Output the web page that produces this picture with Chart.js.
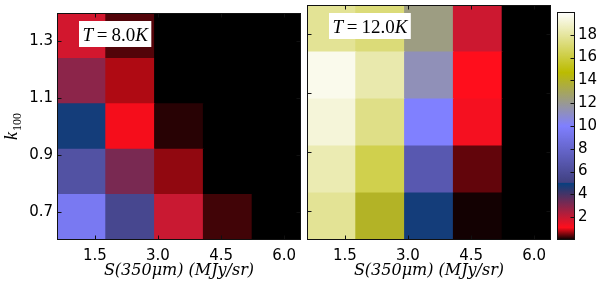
<!DOCTYPE html>
<html>
<head>
<meta charset="utf-8">
<script src="https://cdn.jsdelivr.net/npm/chart.js@4.4.0/dist/chart.umd.min.js"></script>
<style>
  body { margin: 0; background: #fff; }
  #wrap { position: relative; width: 600px; height: 285px; overflow: hidden; }
  canvas { position: absolute; top: 0; }
  #left { left: 0; }
  #right { left: 303px; }
  #cbar { left: 555px; }
</style>
</head>
<body>
<div id="wrap">
  <canvas id="left" width="305" height="285"></canvas>
  <canvas id="right" width="252" height="285"></canvas>
  <canvas id="cbar" width="45" height="285"></canvas>
</div>
<script>
// bin edges of the grid
var xEdges = [0.6, 1.76, 2.92, 4.08, 5.24, 6.4];
var yEdges = [0.6, 0.76, 0.92, 1.08, 1.24, 1.4];
var xTicks = [1.5, 3.0, 4.5, 6.0];
var yTicks = [0.7, 0.9, 1.1, 1.3];
var cbTicks = [2, 4, 6, 8, 10, 12, 14, 16, 18];
var cbRange = [0, 20];

// rows from k100 = 0.68 (bottom) up to 1.32 (top), columns left -> right
var valsT8 = [
  [9.5, 5.6, 1.95, 0.28, 0],
  [6.4, 3.2, 0.62, 0, 0],
  [4.8, 1.05, 0.17, 0, 0],
  [2.9, 0.75, 0, 0, 0],
  [1.8, 0.35, 0, 0, 0]
];
var valsT12 = [
  [17.8, 14.0, 4.8, 0.08, 0],
  [18.4, 16.3, 6.9, 0.42, 0],
  [19.2, 17.5, 10.0, 1.25, 0],
  [19.6, 18.3, 11.3, 1.1, 0],
  [17.8, 17.2, 12.3, 1.9, 0]
];

var xTitle = 'S(350\u03bcm) (MJy/sr)';

// gist_stern colormap
var sternR = [[0, 0], [0.0547, 1], [0.25, 0.027], [0.25, 0.25], [1, 1]];
var sternG = [[0, 0], [1, 1]];
var sternB = [[0, 0], [0.5, 1], [0.735, 0], [1, 1]];

function seg(pts, x) {
  for (var i = 0; i < pts.length - 1; i++) {
    var a = pts[i], b = pts[i + 1];
    if (b[0] > a[0] && x <= b[0]) return a[1] + (b[1] - a[1]) * (x - a[0]) / (b[0] - a[0]);
  }
  return pts[pts.length - 1][1];
}
function stern(v) {
  var x = Math.max(0, Math.min(1, (v - cbRange[0]) / (cbRange[1] - cbRange[0])));
  return 'rgb(' + Math.round(seg(sternR, x) * 255) + ',' + Math.round(seg(sternG, x) * 255) + ',' + Math.round(seg(sternB, x) * 255) + ')';
}

function heatSets(vals) {
  var centers = [];
  for (var i = 0; i < xEdges.length - 1; i++) centers.push((xEdges[i] + xEdges[i + 1]) / 2);
  return vals.map(function (row, r) {
    return {
      data: centers.map(function (x) { return { x: x, y: [yEdges[r], yEdges[r + 1]] }; }),
      backgroundColor: row.map(stern),
      borderWidth: 0,
      inflateAmount: 0.5,
      grouped: false,
      barPercentage: 1,
      categoryPercentage: 1
    };
  });
}

var tickFont = { family: 'DejaVu Sans', size: 15 };

// frame + inward tick marks
var frameTicks = {
  id: 'frameTicks',
  afterDatasetsDraw: function (chart, args, opts) {
    var ctx = chart.ctx, a = chart.chartArea;
    var xs = chart.scales.x, ys = chart.scales.y;
    var L = Math.round(a.left) + 0.5, R = Math.round(a.right) - 0.5;
    var T = Math.round(a.top) + 0.5, B = Math.round(a.bottom) - 0.5;
    function line(x1, y1, x2, y2) { ctx.beginPath(); ctx.moveTo(x1, y1); ctx.lineTo(x2, y2); ctx.stroke(); }
    ctx.save();
    ctx.strokeStyle = '#111';
    ctx.lineWidth = 1;
    (opts.xt || []).forEach(function (v) {
      var p = Math.round(xs.getPixelForValue(v)) + 0.5;
      line(p, B, p, B - 4);
      line(p, T, p, T + 4);
    });
    (opts.yt || []).forEach(function (v) {
      var p = Math.round(ys.getPixelForValue(v)) + 0.5;
      line(L, p, L + 4, p);
      line(R, p, R - 4, p);
    });
    (opts.ytRight || []).forEach(function (v) {
      var p = Math.round(ys.getPixelForValue(v)) + 0.5;
      line(R, p, R - 4, p);
    });
    ctx.strokeRect(L, T, R - L, B - T);
    ctx.restore();
  }
};

// white box with T = ..K
var tempBox = {
  id: 'tempBox',
  afterDraw: function (chart, args, opts) {
    if (!opts.parts) return;
    var ctx = chart.ctx, a = chart.chartArea;
    ctx.save();
    var w = 0;
    opts.parts.forEach(function (p) { ctx.font = (p[1] ? 'italic ' : '') + '19px "Liberation Serif"'; w += ctx.measureText(p[0]).width; });
    var bx = a.left + 22, by = a.top + 8, bw = w + 7, bh = 26;
    ctx.fillStyle = '#fff';
    ctx.fillRect(bx, by, bw, bh);
    ctx.fillStyle = '#000';
    ctx.textBaseline = 'alphabetic';
    var x = bx + 3.5;
    opts.parts.forEach(function (p) {
      ctx.font = (p[1] ? 'italic ' : '') + '19px "Liberation Serif"';
      ctx.fillText(p[0], x, by + 19.5);
      x += ctx.measureText(p[0]).width;
    });
    ctx.restore();
  }
};

// rotated k_100 label
var yLabel = {
  id: 'yLabel',
  afterDraw: function (chart, args, opts) {
    if (!opts.show) return;
    var ctx = chart.ctx, a = chart.chartArea;
    ctx.save();
    ctx.translate(17, (a.top + a.bottom) / 2);
    ctx.rotate(-Math.PI / 2);
    ctx.fillStyle = '#000';
    ctx.font = 'italic 18px "Liberation Serif"';
    var wk = ctx.measureText('k').width;
    ctx.font = '12px "Liberation Serif"';
    var ws = ctx.measureText('100').width;
    var x0 = -(wk + ws + 1) / 2;
    ctx.font = 'italic 18px "Liberation Serif"';
    ctx.fillText('k', x0, 0);
    ctx.font = '12px "Liberation Serif"';
    ctx.fillText('100', x0 + wk + 1, 4);
    ctx.restore();
  }
};

function heatChart(id, vals, parts, showY) {
  return new Chart(document.getElementById(id), {
    type: 'bar',
    data: { datasets: heatSets(vals) },
    options: {
      responsive: false,
      animation: false,
      layout: { padding: showY ? { left: 0, right: 4, top: 5, bottom: 0 } : { left: 4, right: 4, top: 5, bottom: 0 } },
      plugins: {
        legend: { display: false },
        tooltip: { enabled: false },
        frameTicks: { xt: xTicks, yt: yTicks },
        tempBox: { parts: parts },
        yLabel: { show: showY }
      },
      scales: {
        x: {
          type: 'linear',
          offset: false,
          min: xEdges[0],
          max: xEdges[xEdges.length - 1],
          grid: { display: false, drawTicks: false },
          border: { display: false },
          afterBuildTicks: function (s) { s.ticks = xTicks.map(function (v) { return { value: v }; }); },
          afterFit: function (s) { s.height = 45; },
          ticks: { font: tickFont, color: '#000', padding: 7, maxRotation: 0, callback: function (v) { return v.toFixed(1); } },
          title: { display: true, text: xTitle, font: { family: 'DejaVu Serif', size: 16, style: 'italic' }, color: '#000', padding: { top: 0, bottom: 5 } }
        },
        y: {
          display: showY,
          min: yEdges[0],
          max: yEdges[yEdges.length - 1],
          grid: { display: false, drawTicks: false },
          border: { display: false },
          afterBuildTicks: function (s) { s.ticks = yTicks.map(function (v) { return { value: v }; }); },
          afterFit: function (s) { s.width = showY ? 57 : 0; },
          ticks: { font: tickFont, color: '#000', padding: 4, callback: function (v) { return v.toFixed(1); } }
        }
      }
    },
    plugins: [frameTicks, tempBox, yLabel]
  });
}

heatChart('left', valsT8, [['T', true], ['\u2009=\u2009', false], ['8.0', false], ['K', true]], true);
heatChart('right', valsT12, [['T', true], ['\u2009=\u2009', false], ['12.0', false], ['K', true]], false);

// colorbar
new Chart(document.getElementById('cbar'), {
  type: 'bar',
  data: {
    labels: ['cb'],
    datasets: [{
      data: [cbRange],
      borderWidth: 0,
      barPercentage: 1,
      categoryPercentage: 1,
      backgroundColor: function (c) {
        var ch = c.chart;
        if (!ch.chartArea) return '#000';
        var y = ch.scales.y;
        var y0 = y.getPixelForValue(cbRange[0]), y1 = y.getPixelForValue(cbRange[1]);
        var g = ch.ctx.createLinearGradient(0, y0, 0, y1);
        for (var i = 0; i <= 400; i++) {
          var f = i / 400;
          g.addColorStop(f, stern(cbRange[0] + f * (cbRange[1] - cbRange[0])));
        }
        return g;
      }
    }]
  },
  options: {
    responsive: false,
    animation: false,
    layout: { padding: { left: 2, right: 0, top: 5, bottom: 45 } },
    plugins: {
      legend: { display: false },
      tooltip: { enabled: false },
      frameTicks: { ytRight: cbTicks }
    },
    scales: {
      x: { display: false },
      y: {
        position: 'right',
        min: cbRange[0],
        max: cbRange[1],
        grid: { display: false, drawTicks: false },
        border: { display: false },
        afterBuildTicks: function (s) { s.ticks = cbTicks.map(function (v) { return { value: v }; }); },
        afterFit: function (s) { s.width = 25; },
        ticks: { font: tickFont, color: '#000', padding: 3 }
      }
    }
  },
  plugins: [frameTicks]
});
</script>
</body>
</html>
